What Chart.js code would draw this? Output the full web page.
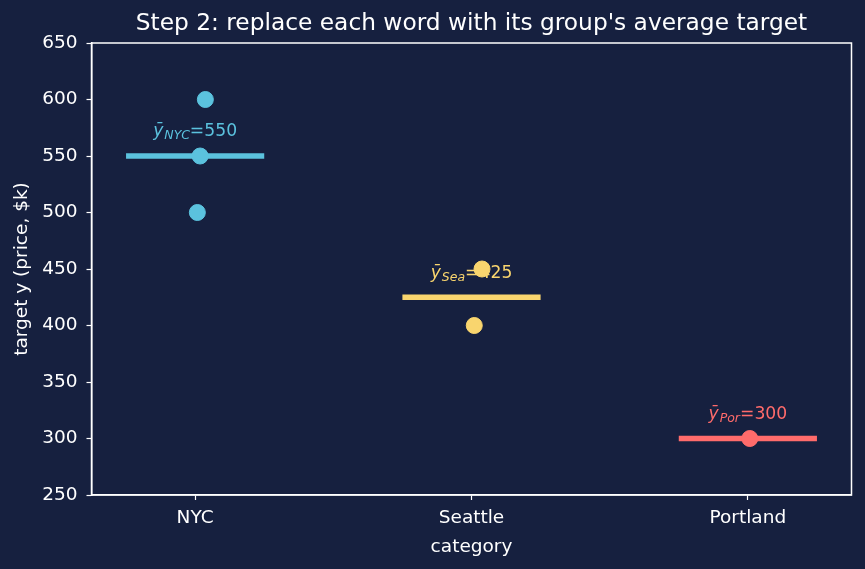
<!DOCTYPE html>
<html>
<head>
<meta charset="utf-8">
<script src="https://cdn.jsdelivr.net/npm/chart.js@4"></script>
<style>
  html, body { margin: 0; padding: 0; background: #16203f; }
  #wrap { width: 865px; height: 569px; }
</style>
</head>
<body>
<div id="wrap"><canvas id="grafico" width="865" height="569"></canvas></div>
<script>
const titulo = "Step 2: replace each word with its group's average target";
const categorias = ["NYC", "Seattle", "Portland"];
const abreviaturas = ["NYC", "Sea", "Por"];
const colores = ["#5bc2de", "#f9d56e", "#ff6b6b"];
// points: x = category index + small jitter, y = price
const puntosNYC = [{ x: 0.037, y: 600 }, { x: 0.018, y: 550 }, { x: 0.008, y: 500 }];
const puntosSeattle = [{ x: 1.038, y: 450 }, { x: 1.01, y: 400 }];
const puntosPortland = [{ x: 2.007, y: 300 }];
const promedios = [550, 425, 300];
const ticksY = [250, 300, 350, 400, 450, 500, 550, 600, 650];

const fondo = "#16203f";
const blanco = "#ffffff";

const lineasPromedio = promedios.map((p, i) => ({
  type: "line",
  data: [{ x: i - 0.25, y: p }, { x: i + 0.25, y: p }],
  borderColor: colores[i],
  borderWidth: 5.5,
  borderCapStyle: "butt",
  pointRadius: 0,
  showLine: true,
  order: 2,
}));

const grupos = [puntosNYC, puntosSeattle, puntosPortland];
const puntos = grupos.map((g, i) => ({
  type: "scatter",
  data: g,
  backgroundColor: colores[i],
  borderColor: colores[i],
  pointRadius: 8,
  pointHoverRadius: 8,
  order: 1,
}));

const pluginFondo = {
  id: "fondo",
  beforeDraw(chart) {
    const ctx = chart.ctx;
    ctx.save();
    ctx.fillStyle = fondo;
    ctx.fillRect(0, 0, chart.width, chart.height);
    ctx.restore();
  },
  afterDraw(chart) {
    const a = chart.chartArea;
    const ctx = chart.ctx;
    ctx.save();
    ctx.strokeStyle = blanco;
    ctx.lineWidth = 1.5;
    ctx.strokeRect(a.left, a.top, a.right - a.left, a.bottom - a.top);
    // title centred over the plot area
    ctx.fillStyle = blanco;
    ctx.font = "23.3px 'DejaVu Sans'";
    ctx.textAlign = "center";
    ctx.textBaseline = "middle";
    ctx.fillText(titulo, (a.left + a.right) / 2, 24);
    ctx.restore();
  },
};

// labels like  ȳ_NYC=550  drawn above each mean line
const pluginEtiquetas = {
  id: "etiquetas",
  beforeDatasetsDraw(chart) {
    const ctx = chart.ctx;
    const sx = chart.scales.x;
    const sy = chart.scales.y;
    ctx.save();
    ctx.textBaseline = "alphabetic";
    ctx.textAlign = "left";
    promedios.forEach((p, i) => {
      const f1 = "italic 17.2px 'DejaVu Sans'";
      const f2 = "italic 12.5px 'DejaVu Sans'";
      const f3 = "17.2px 'DejaVu Sans'";
      const t1 = "ȳ", t2 = abreviaturas[i], t3 = "=" + p;
      ctx.font = f1; const w1 = ctx.measureText(t1).width;
      ctx.font = f2; const w2 = ctx.measureText(t2).width;
      ctx.font = f3; const w3 = ctx.measureText(t3).width;
      const total = w1 + w2 + w3 + 1;
      let x = sx.getPixelForValue(i) - total / 2;
      const y = sy.getPixelForValue(p + 20) + 3;
      ctx.fillStyle = colores[i];
      ctx.font = f1; ctx.fillText(t1, x, y); x += w1 + 1;
      ctx.font = f2; ctx.fillText(t2, x, y + 3); x += w2;
      ctx.font = f3; ctx.fillText(t3, x, y);
    });
    ctx.restore();
  },
};

new Chart(document.getElementById("grafico"), {
  type: "scatter",
  data: { datasets: [...lineasPromedio, ...puntos] },
  plugins: [pluginFondo, pluginEtiquetas],
  options: {
    responsive: false,
    animation: false,
    devicePixelRatio: 1,
    layout: { padding: { left: 0, right: 13.5, top: 43, bottom: 0 } },
    plugins: {
      legend: { display: false },
      tooltip: { enabled: false },
      title: { display: false },
    },
    scales: {
      x: {
        type: "linear",
        min: -0.375,
        max: 2.375,
        afterBuildTicks(scale) {
          scale.ticks = categorias.map((c, i) => ({ value: i }));
        },
        afterFit(scale) { scale.height = 74; },
        ticks: {
          color: blanco,
          padding: 7,
          font: { family: "DejaVu Sans", size: 18.5 },
          callback: (v) => categorias[v],
        },
        grid: { drawOnChartArea: false, color: blanco, tickLength: 5, tickWidth: 1.2 },
        border: { color: blanco, width: 1.5 },
        title: {
          display: true,
          text: "category",
          color: blanco,
          font: { family: "DejaVu Sans", size: 18.5, lineHeight: 1.2 },
          padding: { top: 4, bottom: 11 },
        },
      },
      y: {
        min: 250,
        max: 650,
        afterBuildTicks(scale) {
          scale.ticks = ticksY.map((v) => ({ value: v }));
        },
        afterFit(scale) { scale.width = 91.5; },
        ticks: {
          color: blanco,
          padding: 9,
          font: { family: "DejaVu Sans", size: 18.5 },
        },
        grid: { drawOnChartArea: false, color: blanco, tickLength: 5, tickWidth: 1.2 },
        border: { color: blanco, width: 1.5 },
        title: {
          display: true,
          text: "target y (price, $k)",
          color: blanco,
          font: { family: "DejaVu Sans", size: 18.5, lineHeight: 1.2 },
          padding: { top: 11, bottom: 4 },
        },
      },
    },
  },
});
</script>
</body>
</html>
